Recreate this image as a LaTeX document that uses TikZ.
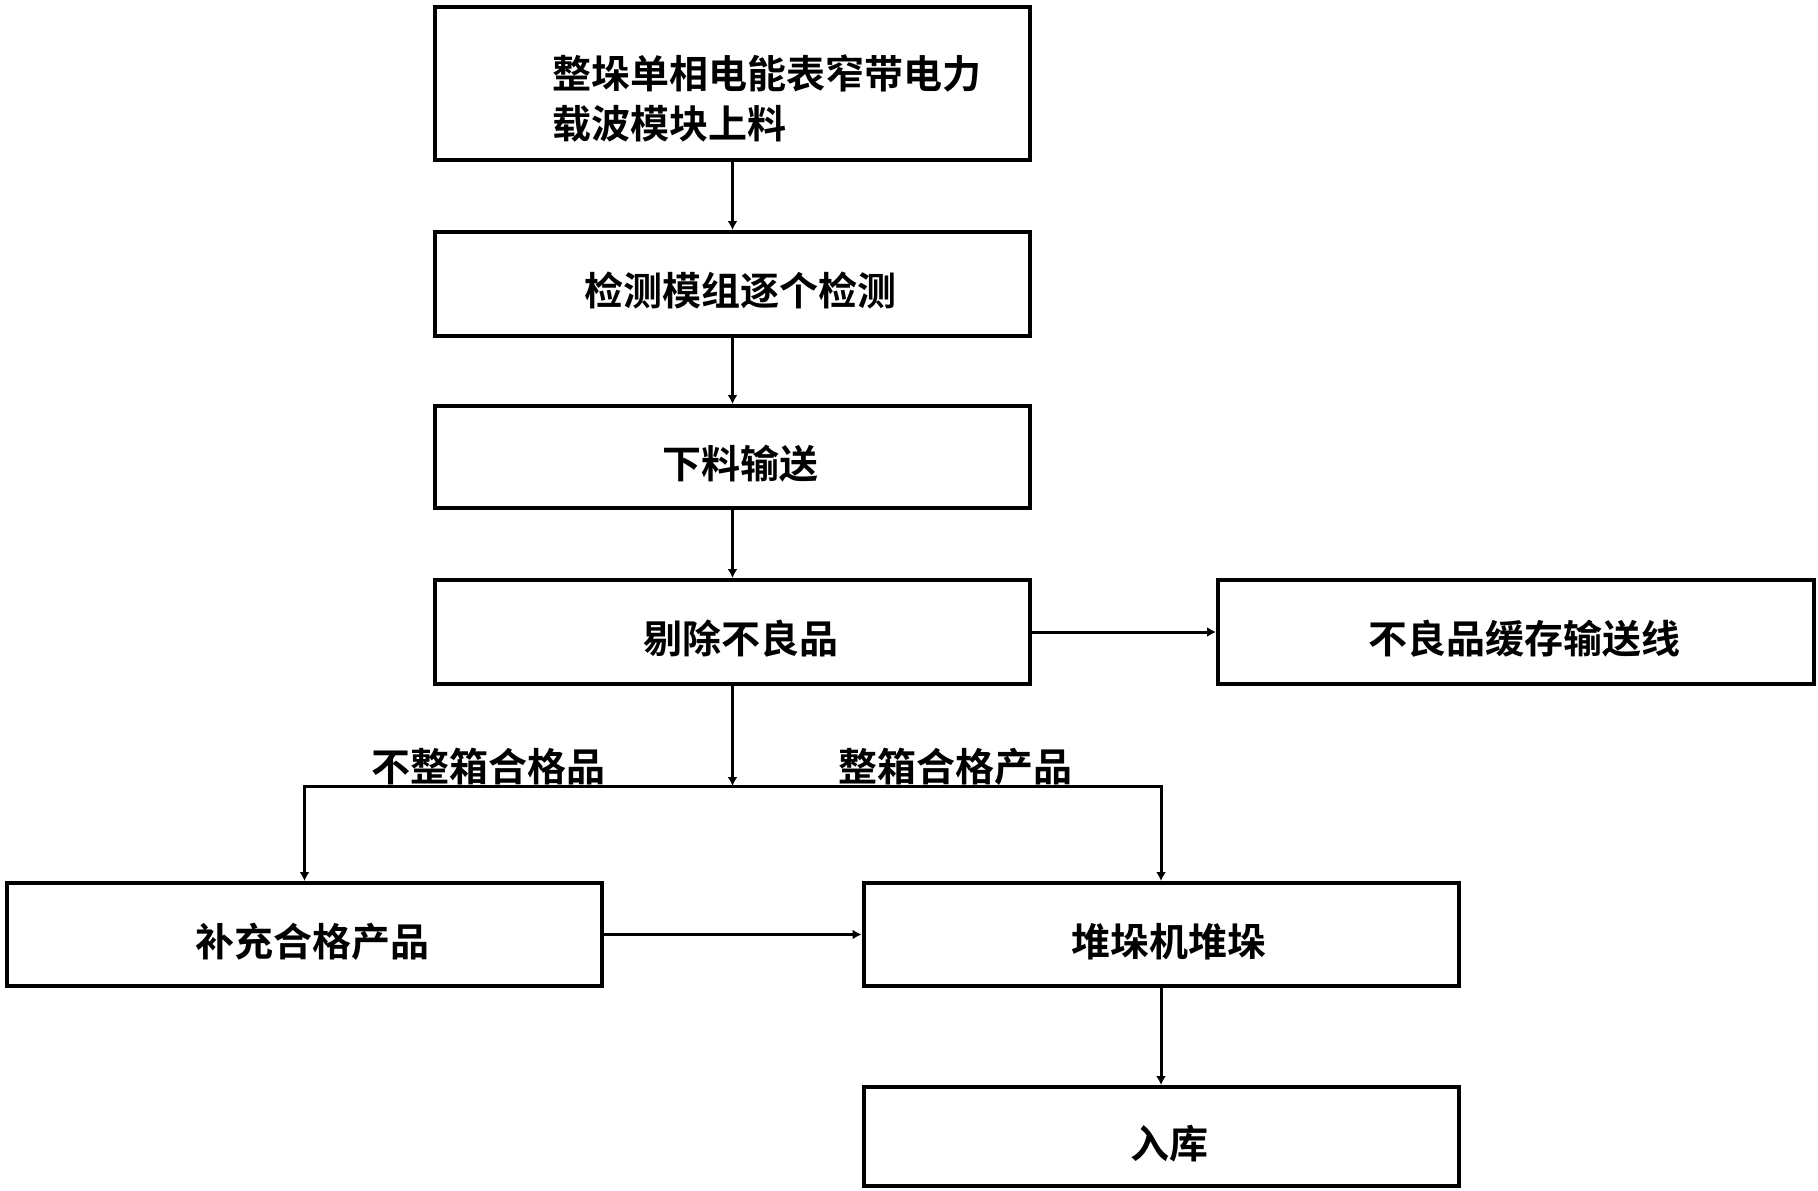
\documentclass[tikz,border=0pt]{standalone}
\usepackage{fontspec}
\newfontfamily\cjk{Noto Sans CJK SC Bold}
\usetikzlibrary{arrows.meta}
\begin{document}
\begin{tikzpicture}[x=1pt,y=-1pt,
  box/.style={draw,line width=4pt,minimum width=595pt,inner sep=0pt,text height=43pt,text depth=0pt,
    execute at begin node={\hspace{16pt}},font=\cjk\fontsize{39}{50}\selectfont},
  lbl/.style={inner sep=0pt,font=\cjk\fontsize{39}{50}\selectfont},
  conn/.style={line width=3pt},
  arr/.style={line width=3pt,-{Latex[length=9pt,width=10pt]}}]
\useasboundingbox (0,0) rectangle (1818,1191);
\node[box,minimum height=153pt] (b1) at (732.5,83.5) {};
\node[lbl,align=left,anchor=west] (t1) at (552,99) {整垛单相电能表窄带电力\\载波模块上料};
\node[box,minimum height=104pt] (b2) at (732.5,284) {检测模组逐个检测};
\node[box,minimum height=102pt] (b3) at (732.5,457) {下料输送};
\node[box,minimum height=104pt] (b4) at (732.5,632) {剔除不良品};
\node[box,minimum height=104pt,minimum width=596pt] (b5) at (1516,632) {不良品缓存输送线};
\node[box,minimum height=103pt] (b6) at (304.5,934.5) {补充合格产品};
\node[box,minimum height=103pt] (b7) at (1161,934.5) {堆垛机堆垛};
\node[box,minimum height=99pt] (b8) at (1161,1136.5) {入库};
\coordinate (j) at (732.5,786);
\coordinate (jl) at (304.5,786);
\coordinate (jr) at (1161,786);
\node[lbl] (l1) at (488,767) {不整箱合格品};
\node[lbl] (l2) at (955,767) {整箱合格产品};
\draw[arr] (b1.south) -- (b2.north);
\draw[arr] (b2.south) -- (b3.north);
\draw[arr] (b3.south) -- (b4.north);
\draw[arr] (b4.east) -- (b5.west);
\draw[arr] (b4.south) -- (j);
\draw[conn] ([xshift=-1.5pt]jl) -- ([xshift=1.5pt]jr);
\draw[arr] (jl) -- (b6.north);
\draw[arr] (jr) -- (b7.north);
\draw[arr] (b6.east) -- (b7.west);
\draw[arr] (b7.south) -- (b8.north);
\end{tikzpicture}
\end{document}
